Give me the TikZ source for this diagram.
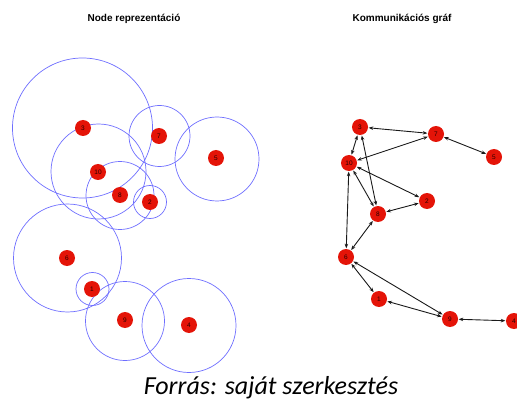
\documentclass[tikz,border=0pt]{standalone}
\usepackage{fontspec}
\setmainfont{Liberation Sans}
\newfontfamily\capfont{Carlito}
\usetikzlibrary{arrows.meta}
\begin{document}
\begin{tikzpicture}[x=1pt,y=-1pt,
  rnode/.style={circle,fill={rgb,255:red,228;green,20;blue,8},inner sep=0pt,minimum size=16pt,font=\fontsize{6.5}{7}\selectfont,text={rgb,255:red,40;green,0;blue,0}},
  rngcirc/.style={draw={rgb,255:red,110;green,110;blue,255},line width=0.7pt},
  gedge/.style={draw=black!90,line width=0.9pt,{Stealth[length=4.5pt,width=3.5pt]}-{Stealth[length=4.5pt,width=3.5pt]},shorten <=0.5pt,shorten >=0.5pt},
  ttl/.style={font=\bfseries\fontsize{10}{12}\selectfont}]
\useasboundingbox (0,0) rectangle (517,409);
\clip (0,0) rectangle (517,409);
% titles
\node[ttl] (t1) at (134,19) {Node reprezentáció};
\node[ttl] (t2) at (402,19) {Kommunikációs gráf};
% left panel: ranges
\draw[rngcirc] (82.5,128) circle (70);
\draw[rngcirc] (159.5,136) circle (30.5);
\draw[rngcirc] (217,159) circle (42);
\draw[rngcirc] (98.5,171.5) circle (47.5);
\draw[rngcirc] (120,195.5) circle (34);
\draw[rngcirc] (150,202) circle (16.5);
\draw[rngcirc] (67.5,258) circle (54);
\draw[rngcirc] (92.5,289) circle (16.5);
\draw[rngcirc] (125,321) circle (39.5);
\draw[rngcirc] (189,325.5) circle (47);
% left panel: nodes
\node[rnode] (l3) at (83,128) {3};
\node[rnode] (l7) at (159,136) {7};
\node[rnode] (l5) at (216,158) {5};
\node[rnode] (l10) at (98,172) {10};
\node[rnode] (l8) at (120,195) {8};
\node[rnode] (l2) at (150,202) {2};
\node[rnode] (l6) at (67,258) {6};
\node[rnode] (l1) at (92,289) {1};
\node[rnode] (l9) at (125,320) {9};
\node[rnode] (l4) at (189,325) {4};
% right panel: nodes
\node[rnode] (g3) at (360,127) {3};
\node[rnode] (g7) at (436,134) {7};
\node[rnode] (g5) at (494,157) {5};
\node[rnode] (g10) at (349,163) {10};
\node[rnode] (g2) at (427,201) {2};
\node[rnode] (g8) at (378,214) {8};
\node[rnode] (g6) at (346,257) {6};
\node[rnode] (g1) at (379,299) {1};
\node[rnode] (g9) at (450,319) {9};
\node[rnode] (g4) at (514,321) {4};
% right panel: edges
\draw[gedge] (g3) -- (g7);
\draw[gedge] (g7) -- (g10);
\draw[gedge] (g7) -- (g5);
\draw[gedge] (g10) -- (g3);
\draw[gedge] (g3) -- (g8);
\draw[gedge] (g10) -- (g8);
\draw[gedge] (g10) -- (g2);
\draw[gedge] (g2) -- (g8);
\draw[gedge] (g10) -- (g6);
\draw[gedge] (g8) -- (g6);
\draw[gedge] (g6) -- (g1);
\draw[gedge] (g6) -- (g9);
\draw[gedge] (g9) -- (g1);
\draw[gedge] (g9) -- (g4);
% caption
\node[font=\capfont\itshape\fontsize{26}{30}\selectfont] (cap) at (271,388) {Forrás: saját szerkesztés};
\end{tikzpicture}
\end{document}
